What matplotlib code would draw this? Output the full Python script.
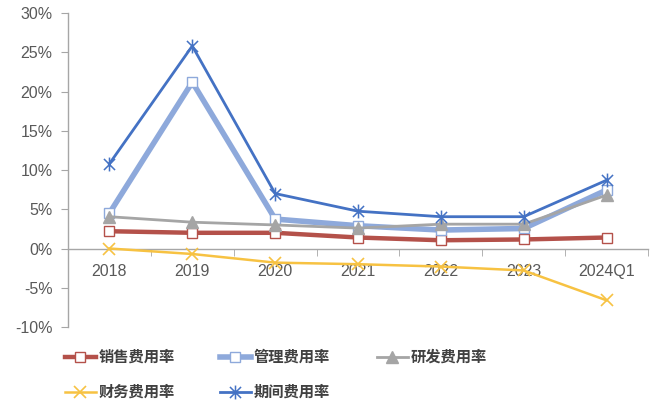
import matplotlib
matplotlib.use("Agg")
import matplotlib.pyplot as plt
from matplotlib.path import Path
from matplotlib.ticker import FixedLocator, FuncFormatter

plt.rcParams["font.family"] = ["Liberation Sans", "DejaVu Sans"]

# 费用率 (%)
years = ["2018", "2019", "2020", "2021", "2022", "2023", "2024Q1"]
sales_rate = [2.2, 2.0, 2.0, 1.4, 1.05, 1.15, 1.4]
admin_rate = [4.5, 21.2, 3.75, 2.9, 2.35, 2.55, 7.45]
rnd_rate = [4.05, 3.35, 3.0, 2.6, 3.1, 3.1, 6.8]
finance_rate = [0.0, -0.7, -1.8, -2.0, -2.3, -2.8, -6.6]
period_rate = [10.8, 25.8, 7.0, 4.75, 4.05, 4.05, 8.7]

# asterisk marker: x plus vertical bar
star = Path(
    [(-1, -1), (1, 1), (-1, 1), (1, -1), (0, -1.25), (0, 1.25)],
    [Path.MOVETO, Path.LINETO, Path.MOVETO, Path.LINETO, Path.MOVETO, Path.LINETO],
)

fig = plt.figure(figsize=(6.59, 4.05), dpi=100)
ax = fig.add_axes([68 / 659, 1 - 327 / 405, (648 - 68) / 659, (327 - 13) / 405])

x = list(range(len(years)))

h_sales, = ax.plot(x, sales_rate, color="#B4514A", lw=3.2, marker="s", ms=7,
                   mfc="white", mec="#B4514A", mew=1.0, label="销售费用率", zorder=3)
h_admin, = ax.plot(x, admin_rate, color="#8EA9DB", lw=4.0, marker="s", ms=7,
                   mfc="white", mec="#8EA9DB", mew=1.0, label="管理费用率", zorder=3)
h_rnd, = ax.plot(x, rnd_rate, color="#A5A5A5", lw=2.0, marker="^", ms=8,
                 mfc="#A5A5A5", mec="#A5A5A5", label="研发费用率", zorder=3)
h_fin, = ax.plot(x, finance_rate, color="#F7C242", lw=1.8, marker="x", ms=9,
                 mew=1.2, label="财务费用率", zorder=3)
h_period, = ax.plot(x, period_rate, color="#4472C4", lw=2.0, marker=star, ms=10,
                    mew=1.1, mfc="none", mec="#4472C4", label="期间费用率", zorder=4)

ax.set_xlim(-0.5, len(years) - 0.5)
ax.set_ylim(-10, 30)
ax.yaxis.set_major_locator(FixedLocator(range(-10, 31, 5)))
ax.yaxis.set_major_formatter(FuncFormatter(lambda v, p: f"{v:.0f}%"))

for side in ("top", "right"):
    ax.spines[side].set_visible(False)
ax.spines["left"].set_color("#A6A6A6")
ax.spines["bottom"].set_color("#A6A6A6")
ax.spines["bottom"].set_position(("data", 0))
ax.spines["left"].set_linewidth(1.0)
ax.spines["bottom"].set_linewidth(1.0)

ax.set_xticks(x)
ax.set_xticklabels(years)
ax.set_xticks([i + 0.5 for i in range(-1, len(years))], minor=True)
ax.tick_params(axis="x", which="major", length=0, pad=11,
               labelsize=11.5, labelcolor="#595959")
ax.tick_params(axis="x", which="minor", length=5, color="#A6A6A6", direction="out")
ax.tick_params(axis="y", length=5, color="#A6A6A6", pad=6,
               labelsize=11.5, labelcolor="#595959")

# one small legend per entry so the grid spacing stays even
legend_slots = [
    (h_sales, 65, 357), (h_admin, 220, 357), (h_rnd, 377, 357),
    (h_fin, 65, 392), (h_period, 220, 392),
]
for handle, px, py in legend_slots:
    leg = fig.legend([handle], [handle.get_label()], loc="center left",
                     bbox_to_anchor=(px / 659, 1 - py / 405),
                     frameon=False, borderpad=0, borderaxespad=0,
                     handlelength=2.0, handletextpad=0.2,
                     prop={"family": ["Noto Sans CJK SC", "DejaVu Sans"],
                           "size": 11, "weight": "bold"})
    for t in leg.get_texts():
        t.set_color("#404040")

fig.savefig("out.png", dpi=100)
